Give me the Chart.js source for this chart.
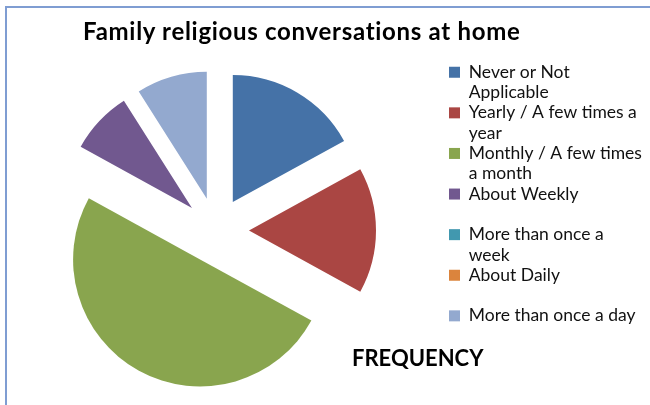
<!DOCTYPE html>
<html>
<head>
<meta charset="utf-8">
<script src="https://cdn.jsdelivr.net/npm/chart.js@4.4.1/dist/chart.umd.min.js"></script>
<style>
  html, body { margin: 0; padding: 0; background: #fff; }
  body { width: 650px; height: 405px; position: relative; overflow: hidden; font-family: Lato, "Open Sans", sans-serif; }
  #frame { position: absolute; left: 5px; top: 6px; width: 700px; height: 500px; border-left: 2px solid #7f9dd2; border-top: 2px solid #7f9dd2; }
  #chartTitle { position: absolute; left: 83px; top: 19px; white-space: nowrap; font-weight: bold; font-size: 24px; line-height: 24px; letter-spacing: 0.7px; color: #000; }
  #freq { position: absolute; left: 352px; top: 347px; white-space: nowrap; font-weight: bold; font-size: 22px; line-height: 22px; color: #000; }
  #pie { position: absolute; left: -20px; top: 0; }
</style>
</head>
<body>
<div id="frame"></div>
<canvas id="pie" width="670" height="405"></canvas>
<div id="chartTitle">Family religious conversations at home</div>
<div id="freq">FREQUENCY</div>
<script>
// answers, in legend order (each label kept on two lines like the original legend)
const categories = [
  ['Never or Not', 'Applicable'],
  ['Yearly / A few times a', 'year'],
  ['Monthly / A few times', 'a month'],
  ['About Weekly', ''],
  ['More than once a', 'week'],
  ['About Daily', ''],
  ['More than once a day', '']
];
const frequency = [17, 16, 50, 8, 0, 0, 9];
const sliceColors = ['#4572A7', '#AA4643', '#89A54E', '#71588F', '#4198AF', '#DB843D', '#93A9CF'];

const LEGEND_LEFT = 469; // canvas px, canvas is shifted 20px left

// pushes every slice out from the centre along its middle angle
const explodePlugin = {
  id: 'explode',
  afterUpdate(chart, args, opts) {
    const area = chart.chartArea;
    const cx = (area.left + area.right) / 2;
    const cy = (area.top + area.bottom) / 2;
    chart.getDatasetMeta(0).data.forEach(arc => {
      const mid = (arc.startAngle + arc.endAngle) / 2;
      arc.x = cx + opts.distance * Math.cos(mid);
      arc.y = cy + opts.distance * Math.sin(mid);
    });
  }
};

const chart = new Chart(document.getElementById('pie'), {
  type: 'pie',
  data: {
    labels: categories,
    datasets: [{
      label: 'FREQUENCY',
      data: frequency,
      backgroundColor: sliceColors,
      borderWidth: 0,
      radius: 127
    }]
  },
  options: {
    responsive: false,
    animation: false,
    events: [],
    layout: { padding: { left: 3, top: 56, right: 0, bottom: 0 } },
    plugins: {
      explode: { distance: 33 },
      tooltip: { enabled: false },
      legend: {
        position: 'right',
        align: 'start',
        title: { display: true, text: '', padding: { top: 6.5, bottom: 0 }, font: { size: 1, lineHeight: 1 } },
        labels: {
          boxWidth: 11,
          boxHeight: 11,
          padding: 0,
          color: '#111',
          font: { family: 'Lato', size: 17.5, lineHeight: 20.3 / 17.5 }
        }
      }
    }
  },
  plugins: [explodePlugin]
});

// line the legend up with the original, keeping the pie where it was
chart.options.layout.padding.right = chart.width - LEGEND_LEFT - chart.legend.width;
chart.update('none');
</script>
</body>
</html>
